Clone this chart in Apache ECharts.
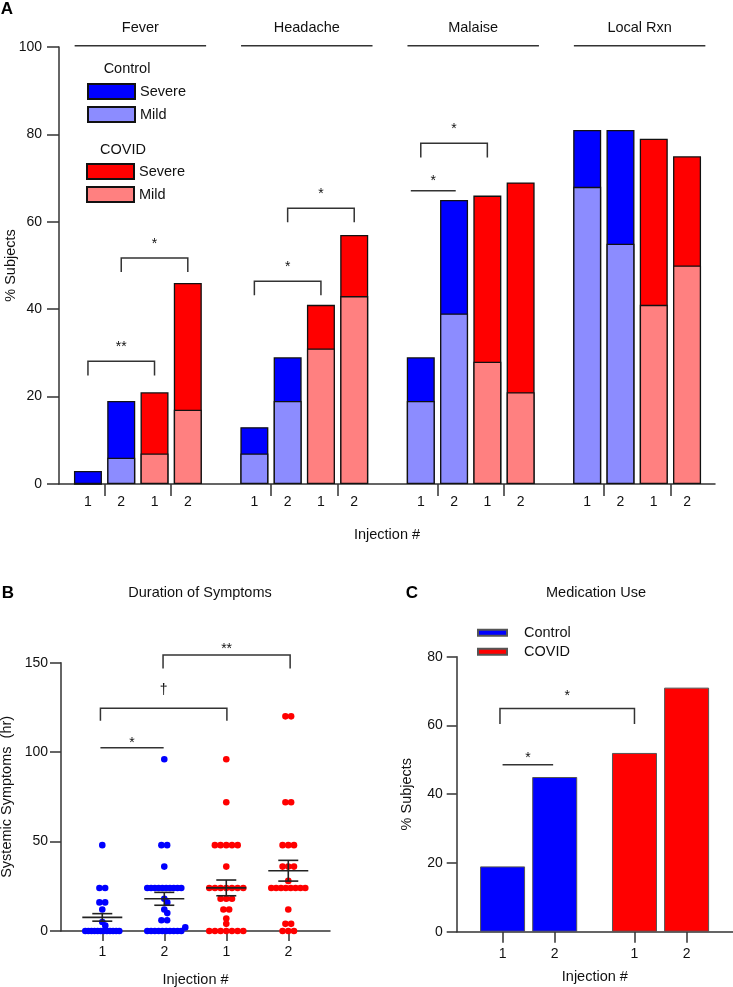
<!DOCTYPE html>
<html>
<head>
<meta charset="utf-8">
<script src="https://cdn.jsdelivr.net/npm/echarts@6/dist/echarts.min.js"></script>
<style>html,body{margin:0;padding:0;background:#fff}#c{width:733px;height:987px}</style>
</head>
<body>
<div id="c"></div>
<script>
// ---------------- Panel A data ----------------
const symptoms = ['Fever', 'Headache', 'Malaise', 'Local Rxn'];
const injectionLabels = ['1', '2', '1', '2'];
// per symptom: [injection 1, injection 2]
const controlTotal = [3, 19, 13, 29, 29, 65, 81, 81];
const controlMild  = [0, 6, 7, 19, 19, 39, 68, 55];
const covidTotal   = [21, 46, 41, 57, 66, 69, 79, 75];
const covidMild    = [7, 17, 31, 43, 28, 21, 41, 50];
// significance annotations (x in bar slots, y in %)
const sigA = [
  { x1: 0, x2: 2, y: 28.1, leg: 24.8, label: '**', ly: 31.9 },
  { x1: 1, x2: 3, y: 51.7, leg: 48.5, label: '*', ly: 55.5 },
  { x1: 5, x2: 7, y: 46.4, leg: 43.2, label: '*', ly: 50.2 },
  { x1: 6, x2: 8, y: 63.1, leg: 59.9, label: '*', ly: 67.0 },
  { x1: 9.7, x2: 11.05, y: 67.1, leg: null, label: '*', ly: 70.0 },
  { x1: 10, x2: 12, y: 78.0, leg: 74.7, label: '*', ly: 82.0 }
];

// ---------------- Panel B data ----------------
const durLabels = ['1', '2', '1', '2'];
const durControl1 = [48, 24, 24, 16, 16, 12, 5, 3, 0, 0, 0, 0, 0, 0, 0, 0, 0, 0, 0, 0];
const durControl2 = [96, 48, 48, 36, 24, 24, 24, 24, 24, 24, 24, 24, 24, 24, 18, 16, 12, 10, 6, 6, 2, 0, 0, 0, 0, 0, 0, 0, 0, 0, 0];
const durCovid1   = [96, 72, 48, 48, 48, 48, 48, 36, 24, 24, 24, 24, 24, 24, 24, 18, 18, 18, 12, 12, 7, 4, 0, 0, 0, 0, 0, 0, 0];
const durCovid2   = [120, 120, 72, 72, 48, 48, 48, 36, 36, 36, 28, 24, 24, 24, 24, 24, 24, 24, 24, 12, 4, 4, 0, 0, 0];
const durMean = [7.6, 18.0, 24.1, 33.7];
const durSem  = [2.1, 3.6, 4.4, 5.8];
const sigB = [
  { x1: 0.97, x2: 1.99, y: 102.5, leg: null, label: '*', ly: 106.5 },
  { x1: 0.97, x2: 3.01, y: 124.5, leg: 117.6, label: '\u2020', ly: 134.3 },
  { x1: 1.98, x2: 4.03, y: 154.3, leg: 146.8, label: '**', ly: 159.3 }
];

// ---------------- Panel C data ----------------
const medLabels = ['1', '2', '1', '2'];
const medPositions = [0, 1, 2.53, 3.53];
const medControl = [19, 45];
const medCovid = [52, 71];
const sigC = [
  { x1: 0, x2: 0.97, y: 48.6, leg: null, label: '*', ly: 51.4 },
  { x1: -0.05, x2: 2.53, y: 64.9, leg: 60.4, label: '*', ly: 69.4 }
];

// ---------------- styling ----------------
const FONT = '"Liberation Sans", Arial, Helvetica, sans-serif';
const AX = '#333';
const TXT = '#111';
const C_SEV = '#0000FF', C_MILD = '#8C8CFF', V_SEV = '#FF0000', V_MILD = '#FF8080';

// ---------------- build panel A data ----------------
const posA = [], labelMapA = {}, tickPosA = [];
const dCS = [], dCM = [], dVS = [], dVM = [];
symptoms.forEach((s, si) => {
  for (let g = 0; g < 2; g++) {
    for (let inj = 0; inj < 2; inj++) {
      const p = si * 5 + g * 2 + inj;
      posA.push(p);
      labelMapA[p] = injectionLabels[g * 2 + inj];
      const k = si * 2 + inj;
      if (g === 0) { dCS.push([p, controlTotal[k]]); dCM.push([p, controlMild[k]]); }
      else { dVS.push([p, covidTotal[k]]); dVM.push([p, covidMild[k]]); }
    }
  }
  tickPosA.push(si * 5 + 0.5, si * 5 + 2.5);
});

function textStyle(size) { return { fontFamily: FONT, fontSize: size, color: TXT }; }

function bracketRender(list, fontSize) {
  return function (params, api) {
    const s = list[params.dataIndex];
    const p1 = api.coord([s.x1, s.y]), p2 = api.coord([s.x2, s.y]);
    const pts = s.leg != null ? [api.coord([s.x1, s.leg]), p1, p2, api.coord([s.x2, s.leg])] : [p1, p2];
    const t = api.coord([(s.x1 + s.x2) / 2, s.ly]);
    const dy = s.label.indexOf('*') >= 0 ? 3 : -1;
    return {
      type: 'group',
      children: [
        { type: 'polyline', shape: { points: pts }, style: { stroke: AX, lineWidth: 1.5, fill: null } },
        { type: 'text', x: t[0], y: t[1] + dy, style: { text: s.label, fill: TXT, font: fontSize + 'px ' + FONT, align: 'center', verticalAlign: 'middle' } }
      ]
    };
  };
}

function barSeries(name, data, color, xi, width) {
  return {
    name: name, type: 'bar', xAxisIndex: xi, yAxisIndex: xi, data: data,
    barWidth: width, barGap: '-100%',
    itemStyle: { color: color, borderColor: '#111', borderWidth: 1.3 },
    emphasis: { disabled: true }
  };
}

function commonAxis(extra) {
  return Object.assign({
    axisLine: { show: true, onZero: false, lineStyle: { color: AX, width: 1.5 } },
    splitLine: { show: false },
    nameTextStyle: textStyle(14.5),
    nameLocation: 'middle',
    nameMoveOverlap: false
  }, extra);
}

const option = {
  animation: false,
  backgroundColor: '#fff',
  textStyle: { fontFamily: FONT },
  grid: [
    { left: 59, right: 18, top: 47, bottom: 503, outerBoundsMode: 'none', containLabel: false },
    { left: 61, right: 403, top: 662.7, bottom: 56, outerBoundsMode: 'none', containLabel: false },
    { left: 456.7, right: 0, top: 656.7, bottom: 55.3, outerBoundsMode: 'none', containLabel: false }
  ],
  xAxis: [
    commonAxis({
      gridIndex: 0, type: 'value', min: -0.87, max: 18.84,
      axisTick: { show: true, length: 12, customValues: tickPosA, lineStyle: { color: AX, width: 1.5 } },
      axisLabel: { show: true, customValues: posA, margin: 11, fontSize: 14, color: TXT, fontFamily: FONT,
        formatter: v => labelMapA[Math.round(v)] || '' },
      name: 'Injection #', nameGap: 43
    }),
    commonAxis({
      gridIndex: 1, type: 'value', min: 0.334, max: 4.673,
      axisTick: { show: true, length: 10, customValues: [1, 2, 3, 4], lineStyle: { color: AX, width: 1.5 } },
      axisLabel: { show: true, customValues: [1, 2, 3, 4], margin: 14, fontSize: 14, color: TXT, fontFamily: FONT,
        formatter: v => durLabels[Math.round(v) - 1] || '' },
      name: 'Injection #', nameGap: 41
    }),
    commonAxis({
      gridIndex: 2, type: 'value', min: -0.88, max: 4.42,
      axisTick: { show: true, length: 11, customValues: medPositions, lineStyle: { color: AX, width: 1.5 } },
      axisLabel: { show: true, customValues: medPositions, margin: 15, fontSize: 14, color: TXT, fontFamily: FONT,
        formatter: v => { const i = medPositions.findIndex(p => Math.abs(p - v) < 1e-6); return i >= 0 ? medLabels[i] : ''; } },
      name: 'Injection #', nameGap: 38
    })
  ],
  yAxis: [
    commonAxis({
      gridIndex: 0, type: 'value', min: 0, max: 100, interval: 20,
      axisTick: { show: true, length: 12, lineStyle: { color: AX, width: 1.5 } },
      axisLabel: { margin: 17, fontSize: 14, color: TXT, fontFamily: FONT },
      name: '% Subjects', nameGap: 41, nameRotate: 90
    }),
    commonAxis({
      gridIndex: 1, type: 'value', min: 0, max: 150, interval: 50,
      axisTick: { show: true, length: 11, lineStyle: { color: AX, width: 1.5 } },
      axisLabel: { margin: 13, fontSize: 14, color: TXT, fontFamily: FONT },
      name: 'Systemic Symptoms  (hr)', nameGap: 47, nameRotate: 90
    }),
    commonAxis({
      gridIndex: 2, type: 'value', min: 0, max: 80, interval: 20,
      axisTick: { show: true, length: 10, lineStyle: { color: AX, width: 1.5 } },
      axisLabel: { margin: 14, fontSize: 14, color: TXT, fontFamily: FONT },
      name: '% Subjects', nameGap: 42, nameRotate: 90
    })
  ],
  legend: [
    { data: ['Control Severe', 'Control Mild'], left: 87, top: 83, orient: 'vertical', padding: 0,
      itemWidth: 47, itemHeight: 15, itemGap: 6, icon: 'rect', selectedMode: false,
      formatter: n => n.split(' ')[1], textStyle: textStyle(14.5) },
    { data: ['COVID Severe', 'COVID Mild'], left: 86, top: 163, orient: 'vertical', padding: 0,
      itemWidth: 47, itemHeight: 15, itemGap: 6, icon: 'rect', selectedMode: false,
      formatter: n => n.split(' ')[1], textStyle: textStyle(14.5) },
    { data: ['Control', 'COVID'], left: 477, top: 625.3, orient: 'vertical', padding: 0,
      itemWidth: 29, itemHeight: 6, itemGap: 4, icon: 'rect', selectedMode: false,
      textStyle: Object.assign(textStyle(14.5), { padding: [0, 0, 0, 12] }) }
  ],
  graphic: [
    { type: 'text', x: 7, y: 9, style: { text: 'A', font: 'bold 17px ' + FONT, fill: '#000', align: 'center', verticalAlign: 'middle' } },
    { type: 'text', x: 8, y: 593, style: { text: 'B', font: 'bold 17px ' + FONT, fill: '#000', align: 'center', verticalAlign: 'middle' } },
    { type: 'text', x: 412, y: 593, style: { text: 'C', font: 'bold 17px ' + FONT, fill: '#000', align: 'center', verticalAlign: 'middle' } },
    { type: 'text', x: 200, y: 593, style: { text: 'Duration of Symptoms', font: '14.5px ' + FONT, fill: TXT, align: 'center', verticalAlign: 'middle' } },
    { type: 'text', x: 596, y: 593, style: { text: 'Medication Use', font: '14.5px ' + FONT, fill: TXT, align: 'center', verticalAlign: 'middle' } },
    { type: 'text', x: 127, y: 69, style: { text: 'Control', font: '14.5px ' + FONT, fill: TXT, align: 'center', verticalAlign: 'middle' } },
    { type: 'text', x: 123, y: 150, style: { text: 'COVID', font: '14.5px ' + FONT, fill: TXT, align: 'center', verticalAlign: 'middle' } }
  ],
  series: [
    barSeries('Control Severe', dCS, C_SEV, 0, 28),
    barSeries('Control Mild', dCM, C_MILD, 0, 28),
    barSeries('COVID Severe', dVS, V_SEV, 0, 28),
    barSeries('COVID Mild', dVM, V_MILD, 0, 28),
    {
      name: 'headers', type: 'custom', xAxisIndex: 0, yAxisIndex: 0, clip: false, silent: true,
      data: symptoms.map((s, i) => [i * 5 - 0.4, i * 5 + 3.55, 100.3]),
      renderItem: function (params, api) {
        const a = api.coord([api.value(0), api.value(2)]);
        const b = api.coord([api.value(1), api.value(2)]);
        return { type: 'group', children: [
          { type: 'line', shape: { x1: a[0], y1: a[1], x2: b[0], y2: b[1] }, style: { stroke: AX, lineWidth: 1.5 } },
          { type: 'text', x: (a[0] + b[0]) / 2, y: a[1] - 18, style: { text: symptoms[params.dataIndex], font: '14.5px ' + FONT, fill: TXT, align: 'center', verticalAlign: 'middle' } }
        ] };
      }
    },
    {
      name: 'sigA', type: 'custom', xAxisIndex: 0, yAxisIndex: 0, clip: false, silent: true,
      data: sigA.map(s => [s.x1, s.y]), renderItem: bracketRender(sigA, 14)
    },
    {
      id: 'dotsControl', name: 'dotsControl', type: 'custom', xAxisIndex: 1, yAxisIndex: 1, clip: false, silent: true,
      data: [],
      renderItem: function (params, api) {
        const p = api.coord([api.value(0), api.value(1)]);
        return { type: 'circle', shape: { cx: p[0] + api.value(2), cy: p[1], r: 3.3 }, style: { fill: C_SEV } };
      }
    },
    {
      id: 'dotsCovid', name: 'dotsCovid', type: 'custom', xAxisIndex: 1, yAxisIndex: 1, clip: false, silent: true,
      data: [],
      renderItem: function (params, api) {
        const p = api.coord([api.value(0), api.value(1)]);
        return { type: 'circle', shape: { cx: p[0] + api.value(2), cy: p[1], r: 3.3 }, style: { fill: V_SEV } };
      }
    },
    {
      name: 'meanSem', type: 'custom', xAxisIndex: 1, yAxisIndex: 1, clip: false, silent: true,
      data: durMean.map((m, i) => [i + 1, m, durSem[i]]),
      renderItem: function (params, api) {
        const x = api.value(0), m = api.value(1), e = api.value(2);
        const c = api.coord([x, m]), hi = api.coord([x, m + e]), lo = api.coord([x, m - e]);
        const st = { stroke: '#222', lineWidth: 1.6 };
        return { type: 'group', children: [
          { type: 'line', shape: { x1: c[0] - 20, y1: c[1], x2: c[0] + 20, y2: c[1] }, style: st },
          { type: 'line', shape: { x1: c[0] - 10, y1: hi[1], x2: c[0] + 10, y2: hi[1] }, style: st },
          { type: 'line', shape: { x1: c[0] - 10, y1: lo[1], x2: c[0] + 10, y2: lo[1] }, style: st },
          { type: 'line', shape: { x1: c[0], y1: lo[1], x2: c[0], y2: hi[1] }, style: st }
        ] };
      }
    },
    {
      name: 'sigB', type: 'custom', xAxisIndex: 1, yAxisIndex: 1, clip: false, silent: true,
      data: sigB.map(s => [s.x1, s.y]), renderItem: bracketRender(sigB, 14)
    },
    {
      name: 'Control', type: 'bar', xAxisIndex: 2, yAxisIndex: 2, barWidth: 45, barGap: '-100%',
      data: medControl.map((v, i) => [medPositions[i], v]),
      itemStyle: { color: C_SEV, borderColor: '#555', borderWidth: 1 }, emphasis: { disabled: true }
    },
    {
      name: 'COVID', type: 'bar', xAxisIndex: 2, yAxisIndex: 2, barWidth: 45, barGap: '-100%',
      data: medCovid.map((v, i) => [medPositions[i + 2], v]),
      itemStyle: { color: V_SEV, borderColor: '#555', borderWidth: 1 }, emphasis: { disabled: true }
    },
    {
      name: 'sigC', type: 'custom', xAxisIndex: 2, yAxisIndex: 2, clip: false, silent: true,
      data: sigC.map(s => [s.x1, s.y]), renderItem: bracketRender(sigC, 14)
    }
  ]
};

const chart = echarts.init(document.getElementById('c'), null, { renderer: 'canvas', width: 733, height: 987 });
chart.setOption(option);

// beeswarm layout of the dots (pixel offsets from the group centre)
const yA = chart.convertToPixel({ yAxisIndex: 1 }, 0);
const yB = chart.convertToPixel({ yAxisIndex: 1 }, 100);
const pxPerUnit = Math.abs(yA - yB) / 100;
function swarm(values, groupX) {
  const step = 5.7, maxSpan = 34, minDist = 4.5;
  const counts = new Map();
  values.forEach(v => counts.set(v, (counts.get(v) || 0) + 1));
  const keys = Array.from(counts.keys()).sort((a, b) => (counts.get(b) - counts.get(a)) || (b - a));
  const placed = [], out = [];
  keys.forEach(v => {
    const k = counts.get(v);
    const py = v * pxPerUnit;
    if (k > 1) {
      const sp = Math.min(step, maxSpan / (k - 1));
      for (let i = 0; i < k; i++) {
        const dx = (i - (k - 1) / 2) * sp;
        placed.push([dx, py]); out.push([groupX, v, dx]);
      }
    } else {
      let dx = 0;
      for (let j = 0; j < 30; j++) {
        const cand = j === 0 ? 0 : (j % 2 ? 1 : -1) * Math.ceil(j / 2) * 3;
        if (placed.every(p => Math.hypot(p[0] - cand, p[1] - py) >= minDist)) { dx = cand; break; }
      }
      placed.push([dx, py]); out.push([groupX, v, dx]);
    }
  });
  return out;
}
chart.setOption({
  series: [
    { id: 'dotsControl', data: swarm(durControl1, 1).concat(swarm(durControl2, 2)) },
    { id: 'dotsCovid', data: swarm(durCovid1, 3).concat(swarm(durCovid2, 4)) }
  ]
});
</script>
</body>
</html>
